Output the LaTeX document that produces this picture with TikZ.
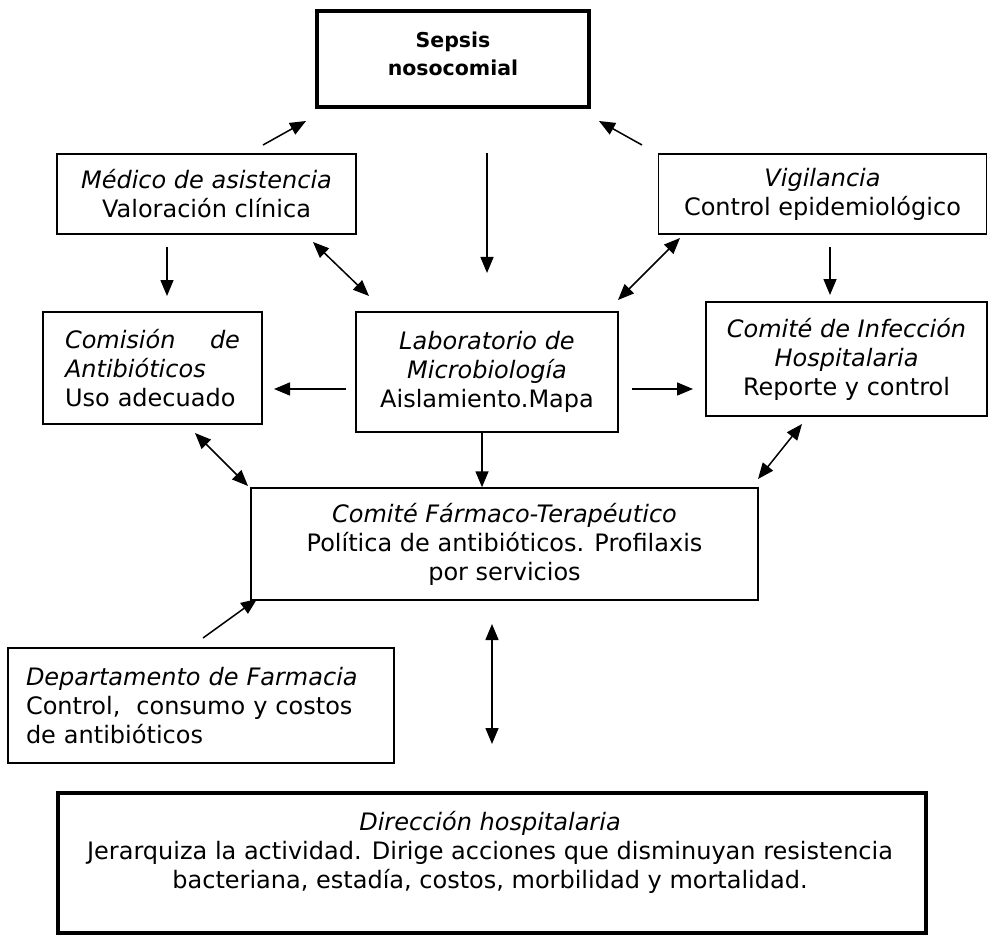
\documentclass[tikz,border=0pt]{standalone}
\usepackage{fontspec}
\setmainfont{DejaVu Sans}
\usetikzlibrary{arrows.meta}
\begin{document}
\begin{tikzpicture}[x=1pt,y=-1pt,
  thinbox/.style={draw,line width=1.5pt,rectangle,inner sep=0pt,align=center,
     font=\fontsize{24}{29}\selectfont},
  thickbox/.style={draw,line width=4pt,rectangle,inner sep=0pt},
  txt/.style={align=center,inner sep=0pt,font=\fontsize{24}{29}\selectfont},
  arr/.style={line width=1.5pt,-{Triangle[length=16pt,width=13pt]}},
  darr/.style={line width=1.5pt,{Triangle[length=16pt,width=13pt]}-{Triangle[length=16pt,width=13pt]}}]
\useasboundingbox (0,0) rectangle (988,936);
\fill[white] (0,0) rectangle (988,936);

% boxes
\node[thickbox,minimum width=272pt,minimum height=96pt] (sepsis) at (453,59) {};
\node[txt,font=\fontsize{20.5}{28}\selectfont\bfseries] (sepsist) at (453,54) {Sepsis\\nosocomial};

\node[thinbox,minimum width=299pt,minimum height=80pt] (medico) at (206.5,194)
  {\textit{Médico de asistencia}\\Valoración clínica};
\node[thinbox,minimum width=328pt,minimum height=80pt] (vig) at (822.5,194)
  {\textit{Vigilancia}\\Control epidemiológico};
\node[thinbox,minimum width=219pt,minimum height=112pt,text width=175pt,align=left,inner xsep=21pt] (comision) at (152.5,368)
  {\makebox[175pt][s]{\textit{Comisión}\hfill\textit{de}}\\\textit{Antibióticos}\\Uso adecuado};
\node[thinbox,minimum width=262pt,minimum height=120pt] (lab) at (487,372)
  {\textit{Laboratorio de}\\\textit{Microbiología}\\Aislamiento.Mapa};
\node[thinbox,minimum width=281pt,minimum height=114pt] (comite) at (846.5,359)
  {\textit{Comité de Infección}\\\textit{Hospitalaria}\\Reporte y control};
\node[thinbox,minimum width=507pt,minimum height=112pt] (farmaco) at (504.5,544)
  {\textit{Comité Fármaco-Terapéutico}\\Política de antibióticos. Profilaxis\\por servicios};
\node[thinbox,minimum width=386pt,minimum height=115pt,text width=350pt,align=left,inner xsep=18pt] (depto) at (201,705.5)
  {\textit{Departamento de Farmacia}\\Control,\ \ consumo y costos\\de antibióticos};
\node[thickbox,minimum width=868pt,minimum height=140pt] (direccion) at (492,863) {};
\node[txt] (direcciont) at (490,852)
  {\textit{Dirección hospitalaria}\\Jerarquiza la actividad. Dirige acciones que disminuyan resistencia\\bacteriana, estadía, costos, morbilidad y mortalidad.};

% connector end points
\coordinate (a1s) at (263,145); \coordinate (a1e) at (306,121);
\coordinate (a2s) at (642,145); \coordinate (a2e) at (599,121);
\coordinate (a3s) at (487,153); \coordinate (a3e) at (487,273);
\coordinate (a4s) at (167,247); \coordinate (a4e) at (167,296);
\coordinate (a5s) at (313,242); \coordinate (a5e) at (369,296);
\coordinate (a6s) at (680,238); \coordinate (a6e) at (618,300);
\coordinate (a7s) at (830,247); \coordinate (a7e) at (830,295);
\coordinate (a8s) at (346,389); \coordinate (a8e) at (274,389);
\coordinate (a9s) at (632,389); \coordinate (a9e) at (693,389);
\coordinate (a11s) at (195,433); \coordinate (a11e) at (248,486);
\coordinate (a12s) at (802,424); \coordinate (a12e) at (758,479);
\coordinate (a13s) at (203,638); \coordinate (a13e) at (257,599);
\coordinate (a14s) at (492,624); \coordinate (a14e) at (492,744);

\draw[arr] (a1s) -- (a1e);
\draw[arr] (a2s) -- (a2e);
\draw[arr] (a3s) -- (a3e);
\draw[arr] (a4s) -- (a4e);
\draw[darr] (a5s) -- (a5e);
\draw[darr] (a6s) -- (a6e);
\draw[arr] (a7s) -- (a7e);
\draw[arr] (a8s) -- (a8e);
\draw[arr] (a9s) -- (a9e);
\draw[arr] (lab.south -| 482,0) -- (farmaco.north -| 482,0);
\draw[darr] (a11s) -- (a11e);
\draw[darr] (a12s) -- (a12e);
\draw[arr] (a13s) -- (a13e);
\draw[darr] (a14s) -- (a14e);
\end{tikzpicture}
\end{document}
